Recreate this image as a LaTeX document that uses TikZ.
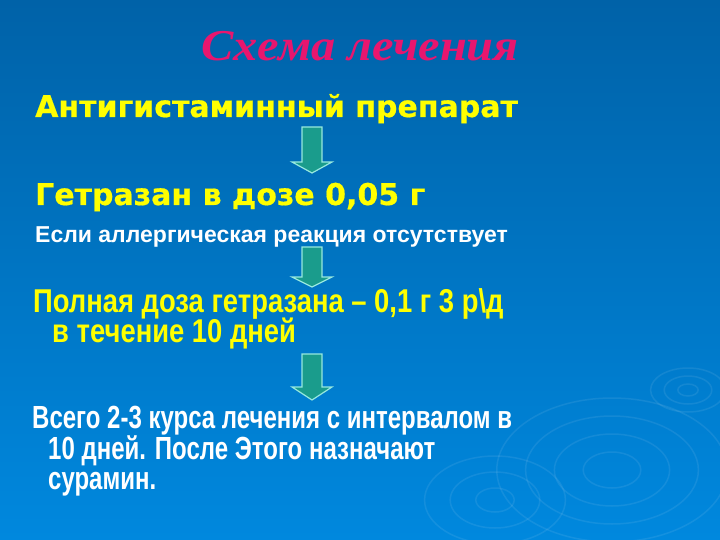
\documentclass[tikz,border=0pt]{standalone}
\usepackage{fontspec}
\newfontfamily\heavyfont{DejaVu Sans Bold}[FakeBold=0.6]
\newfontfamily\boldfont{Liberation Sans Bold}
\newfontfamily\widefont{Liberation Sans Bold}[FakeStretch=0.83]
\newfontfamily\narrowfont{Liberation Sans Bold}[FakeStretch=0.75]
\newfontfamily\headfont{Liberation Serif Bold Italic}[FakeStretch=1.1]
\definecolor{bgtop}{RGB}{0,98,168}
\definecolor{bgbottom}{RGB}{0,136,222}
\definecolor{headpink}{RGB}{232,22,110}
\definecolor{textyellow}{RGB}{255,255,0}
\definecolor{arrowfill}{RGB}{26,156,140}
\definecolor{arrowedge}{RGB}{150,232,222}
\tikzset{
  line/.style={anchor=base west, inner sep=0pt},
  blockarrow/.style={fill=arrowfill, draw=arrowedge, line width=1.2pt, line join=miter},
  ripple/.style={draw=white, opacity=0.08, line width=1.5pt}
}
\begin{document}
\begin{tikzpicture}[x=1pt, y=-1pt]
  \shade[top color=bgtop, bottom color=bgbottom] (0,0) rectangle (720,540);
  \useasboundingbox (0,0) rectangle (720,540);
  % ripples
  \foreach \r in {6,14,22}
    \draw[ripple] (688,390) ellipse (\r*1.7 and \r);
  \foreach \r in {18,36,54,72}
    \draw[ripple] (612,470) ellipse (\r*1.6 and \r);
  \foreach \r in {12,28,44}
    \draw[ripple] (495,500) ellipse (\r*1.6 and \r);
  % title
  \node[anchor=base, inner sep=0pt, text=headpink, font=\headfont\fontsize{44}{44}\selectfont] (head) at (360,61) {Схема лечения};
  % steps
  \node[line, text=textyellow, font=\heavyfont\fontsize{30}{30}\selectfont] (drug) at (35,117) {Антигистаминный препарат};
  \node[line, text=textyellow, font=\heavyfont\fontsize{30}{30}\selectfont] (test) at (35,205) {Гетразан в дозе 0,05 г};
  \node[line, text=white, font=\boldfont\fontsize{23}{23}\selectfont] (cond) at (35,242) {Если аллергическая реакция отсутствует};
  \node[line, text=textyellow, font=\widefont\fontsize{33}{33}\selectfont] (full) at (33,312) {Полная доза гетразана – 0,1 г 3 р\textbackslash д};
  \node[line, text=textyellow, font=\widefont\fontsize{33}{33}\selectfont] (full2) at (52,342) {в течение 10 дней};
  \node[line, text=white, font=\narrowfont\fontsize{32}{32}\selectfont] (total) at (32,428) {Всего 2-3 курса лечения с интервалом в};
  \node[line, text=white, font=\narrowfont\fontsize{32}{32}\selectfont] (total2) at (48,459) {10 дней. После Этого назначают};
  \node[line, text=white, font=\narrowfont\fontsize{32}{32}\selectfont] (total3) at (48,489) {сурамин.};
  % arrows
  \draw[blockarrow] (302,127) -- ++(20,0) -- ++(0,35) -- ++(10,0) -- ++(-20,11) -- ++(-20,-11) -- ++(10,0) -- cycle;
  \draw[blockarrow] (302,247) -- ++(20,0) -- ++(0,30) -- ++(10,0) -- ++(-20,10) -- ++(-20,-10) -- ++(10,0) -- cycle;
  \draw[blockarrow] (302,354) -- ++(20,0) -- ++(0,33) -- ++(10,0) -- ++(-20,13) -- ++(-20,-13) -- ++(10,0) -- cycle;
\end{tikzpicture}
\end{document}
